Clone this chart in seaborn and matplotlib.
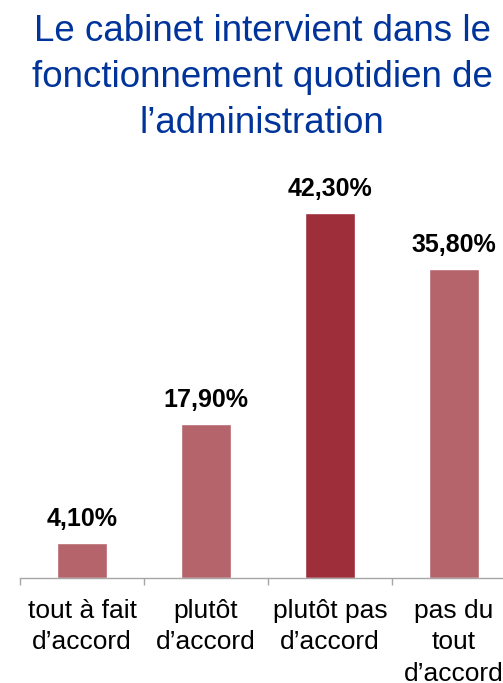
import matplotlib
matplotlib.use("Agg")
import matplotlib.pyplot as plt
import seaborn as sns
import numpy as np

categories = ["tout à fait\nd’accord", "plutôt\nd’accord", "plutôt pas\nd’accord", "pas du\ntout\nd’accord"]
values = [4.1, 17.9, 42.3, 35.8]
labels = ["4,10%", "17,90%", "42,30%", "35,80%"]
colors = ["#B5646B", "#B5646B", "#9D2E3A", "#B5646B"]
title = "Le cabinet intervient dans le\nfonctionnement quotidien de\nl’administration"

sns.set_theme(style="white")
plt.rcParams["font.family"] = ["Liberation Sans", "DejaVu Sans"]

W, H = 503, 683
fig = plt.figure(figsize=(W / 100, H / 100), dpi=100)
left, right_px, base_px, top_px = 20, 516, 578, 190
ax = fig.add_axes([left / W, (H - base_px) / H, (right_px - left) / W, (base_px - top_px) / H])

sns.barplot(x=categories, y=values, hue=categories, palette=colors, width=0.4,
            legend=False, ax=ax, saturation=1)
ax.set_xlim(-0.5, 3.5)
ax.set_ylim(0, 45)

for i, (v, lab) in enumerate(zip(values, labels)):
    ax.annotate(lab, (i, v), xytext=(0, 12.3), textcoords="offset points",
                ha="center", va="baseline", fontsize=18, fontweight="bold", color="black")

for s in ["top", "right", "left"]:
    ax.spines[s].set_visible(False)
ax.spines["bottom"].set_color("#A6A6A6")
ax.spines["bottom"].set_linewidth(1.0)
ax.set_yticks([])
ax.set_xticks(range(4))
ax.set_xticklabels(categories, fontsize=19, linespacing=1.4, color="black")
ax.tick_params(axis="x", which="major", length=0, pad=15)
ax.set_xticks(np.arange(-0.5, 4, 1), minor=True)
ax.tick_params(axis="x", which="minor", length=5, width=1.0, color="#A6A6A6", bottom=True)
ax.set_xlabel("")
ax.set_ylabel("")

fig.text(262 / W, 1 - 14 / H, title, ha="center", va="top", fontsize=26.5,
         color="#00349A", linespacing=1.4)

fig.savefig("out.png", dpi=100)
